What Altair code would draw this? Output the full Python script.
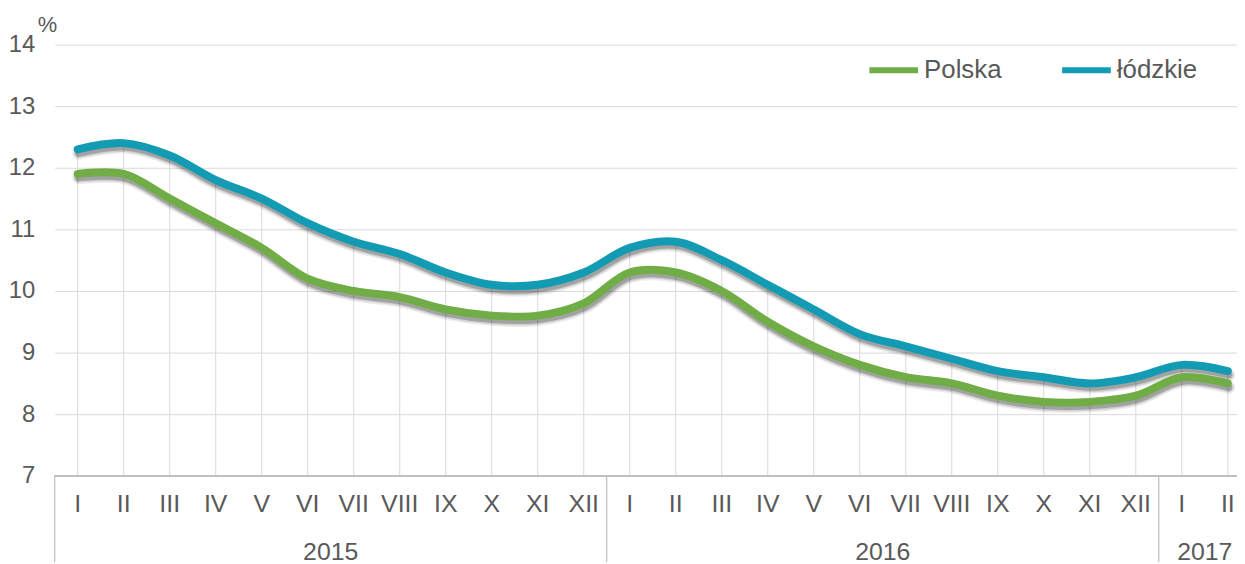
import altair as alt
import pandas as pd

# ---- data ----
months = ["I", "II", "III", "IV", "V", "VI", "VII", "VIII", "IX", "X", "XI", "XII",
          "I", "II", "III", "IV", "V", "VI", "VII", "VIII", "IX", "X", "XI", "XII",
          "I", "II"]
years = ["2015"] * 12 + ["2016"] * 12 + ["2017"] * 2
polska = [11.9, 11.9, 11.5, 11.1, 10.7, 10.2, 10.0, 9.9, 9.7, 9.6, 9.6, 9.8,
          10.3, 10.3, 10.0, 9.5, 9.1, 8.8, 8.6, 8.5, 8.3, 8.2, 8.2, 8.3,
          8.6, 8.5]
lodzkie = [12.3, 12.4, 12.2, 11.8, 11.5, 11.1, 10.8, 10.6, 10.3, 10.1, 10.1, 10.3,
           10.7, 10.8, 10.5, 10.1, 9.7, 9.3, 9.1, 8.9, 8.7, 8.6, 8.5, 8.6,
           8.8, 8.7]
series_names = ["Polska", "łódzkie"]
series_colors = ["#70AD47", "#139BB3"]
y_ticks = [7, 8, 9, 10, 11, 12, 13, 14]

FONT = "Liberation Sans"
TXT = "#595959"
FS = 25
H = 434
W = 1190

idx = list(range(len(months)))
wide = pd.DataFrame({"idx": idx, "month": months, "year": years,
                     "pl": polska, "lodz": lodzkie})
long = pd.concat([
    pd.DataFrame({"idx": idx, "value": polska, "series": series_names[0]}),
    pd.DataFrame({"idx": idx, "value": lodzkie, "series": series_names[1]}),
], ignore_index=True)

# year groups (derived from the category list)
yr_rows = []
uniq = list(dict.fromkeys(years))
for i, y in enumerate(uniq):
    start = years.index(y) - 0.5
    end = (years.index(uniq[i + 1]) - 0.5) if i + 1 < len(uniq) else len(years) - 0.5
    yr_rows.append({"year": y, "start": start, "center": (start + end) / 2})
yrs = pd.DataFrame(yr_rows)

xscale = alt.Scale(domain=[-0.5, 25.2], nice=False, zero=False)
yscale = alt.Scale(domain=[7, 14], nice=False, zero=False)
X = alt.X("idx:Q", scale=xscale, axis=None)
yaxis = alt.Axis(values=y_ticks, title=None, grid=True, gridColor="#d9d9d9",
                 gridWidth=1, domain=False, ticks=False, labelPadding=20,
                 labelFontSize=24, labelFont=FONT, labelColor=TXT)

drop = alt.Chart(wide).mark_rule(color="#d9d9d9", strokeWidth=1).encode(
    x=X,
    y=alt.Y("lodz:Q", scale=yscale, axis=yaxis),
    y2=alt.value(H),
)

axis_line = alt.Chart(wide).mark_rule(color="#bfbfbf", strokeWidth=1.2).encode(
    x=alt.value(0), x2=alt.value(W), y=alt.value(H)
)

interp = "catmull-rom"


def shadow(width, op, dy):
    return alt.Chart(long).mark_line(
        color="black", opacity=op, strokeWidth=width, yOffset=dy, xOffset=1,
        interpolate=interp, strokeCap="round"
    ).encode(x=X, y=alt.Y("value:Q", scale=yscale, axis=yaxis), detail="series:N")


shadows = [shadow(13, 0.07, 4), shadow(10, 0.12, 4), shadow(7, 0.22, 4)]

lines = alt.Chart(long).mark_line(
    strokeWidth=8, interpolate=interp, strokeCap="round"
).encode(
    x=X,
    y=alt.Y("value:Q", scale=yscale, axis=yaxis),
    color=alt.Color("series:N",
                    scale=alt.Scale(domain=series_names, range=series_colors),
                    legend=alt.Legend(orient="none", legendX=817, legendY=-2,
                                      direction="horizontal", title=None,
                                      symbolType="stroke", symbolSize=2401,
                                      symbolStrokeWidth=6, labelFontSize=FS + 1,
                                      labelFont=FONT, labelColor=TXT,
                                      columnPadding=48, labelOffset=3, padding=0)),
)

month_text = alt.Chart(wide).mark_text(
    fontSize=FS, font=FONT, color=TXT, baseline="middle", align="center"
).encode(x=X, y=alt.value(462), text="month:N")

year_text = alt.Chart(yrs).mark_text(
    fontSize=FS, font=FONT, color=TXT, baseline="middle", align="center"
).encode(x=alt.X("center:Q", scale=xscale, axis=None), y=alt.value(511), text="year:N")

year_sep = alt.Chart(yrs).mark_rule(color="#bfbfbf", strokeWidth=1.2).encode(
    x=alt.X("start:Q", scale=xscale, axis=None), y=alt.value(H), y2=alt.value(521)
)

pct = alt.Chart(pd.DataFrame({"t": ["%"]})).mark_text(
    fontSize=22, font=FONT, color=TXT, align="left", baseline="middle"
).encode(x=alt.value(-17), y=alt.value(-20), text="t:N")

chart = alt.layer(
    drop, axis_line, *shadows, lines, month_text, year_text, year_sep, pct
).properties(
    width=W, height=H,
    autosize=alt.AutoSizeParams(type="none"),
    padding={"left": 47, "top": 35, "right": 0, "bottom": 87},
).configure_view(stroke=None)

chart.save("out.html", embed_options={"renderer": "svg", "actions": False})
